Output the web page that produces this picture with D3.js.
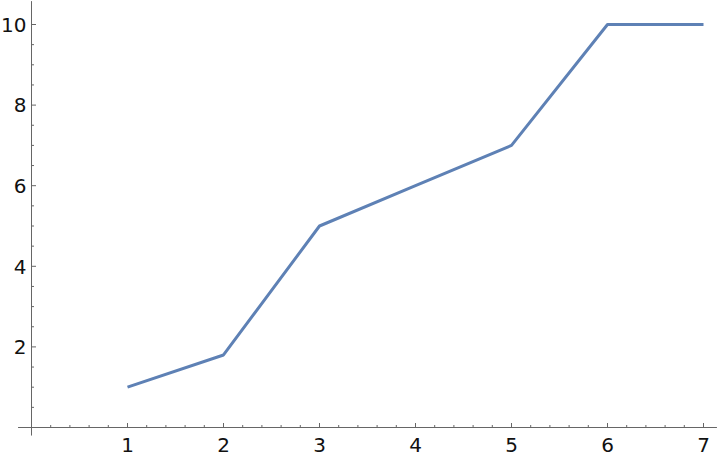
<!DOCTYPE html>
<html><head><meta charset="utf-8">
<script src="https://cdn.jsdelivr.net/npm/d3@7"></script>
<style>body{margin:0;background:#fff}svg{display:block}</style>
</head><body>
<script>
const xValues = [1, 2, 3, 4, 5, 6, 7];
const yValues = [1, 1.8, 5, 6, 7, 10, 10];
const xTickLabels = [1, 2, 3, 4, 5, 6, 7];
const yTickLabels = [2, 4, 6, 8, 10];

const W = 720, H = 458;
const svg = d3.select("body").append("svg").attr("width", W).attr("height", H);
const x = d3.scaleLinear().domain([0, 7]).range([31.5, 703.5]);
const y = d3.scaleLinear().domain([0, 10]).range([427.5, 24.5]);
const axisColor = "#666";
const font = "DejaVu Sans";

// axes lines
svg.append("line").attr("x1", x(-0.14)).attr("x2", x(7.14)).attr("y1", y(0)).attr("y2", y(0))
  .attr("stroke", axisColor).attr("stroke-width", 1);
svg.append("line").attr("x1", x(0)).attr("x2", x(0)).attr("y1", y(-0.2)).attr("y2", y(10.58))
  .attr("stroke", axisColor).attr("stroke-width", 1);

// x ticks
const xMinor = d3.range(1, 36).map(i => i / 5).filter(v => Math.abs(v - Math.round(v)) > 1e-6);
const gx = svg.append("g");
gx.selectAll("line.maj").data(xTickLabels).join("line")
  .attr("x1", d => x(d)).attr("x2", d => x(d)).attr("y1", y(0)).attr("y2", y(0) - 4.5)
  .attr("stroke", axisColor);
gx.selectAll("line.min").data(xMinor).join("line")
  .attr("x1", d => x(d)).attr("x2", d => x(d)).attr("y1", y(0)).attr("y2", y(0) - 2.5)
  .attr("stroke", axisColor);
gx.selectAll("text").data(xTickLabels).join("text")
  .attr("x", d => x(d)).attr("y", 452).attr("text-anchor", "middle")
  .attr("font-family", font).attr("font-size", 20).attr("fill", "#111").text(d => d);

// y ticks
const yMinor = d3.range(1, 21).map(i => i / 2).filter(v => !yTickLabels.includes(v));
const gy = svg.append("g");
gy.selectAll("line.maj").data(yTickLabels).join("line")
  .attr("x1", x(0)).attr("x2", x(0) + 4.5).attr("y1", d => y(d)).attr("y2", d => y(d))
  .attr("stroke", axisColor);
gy.selectAll("line.min").data(yMinor).join("line")
  .attr("x1", x(0)).attr("x2", x(0) + 2.5).attr("y1", d => y(d)).attr("y2", d => y(d))
  .attr("stroke", axisColor);
gy.selectAll("text").data(yTickLabels).join("text")
  .attr("x", 26.5).attr("y", d => y(d)).attr("dy", "0.36em").attr("text-anchor", "end")
  .attr("font-family", font).attr("font-size", 20).attr("fill", "#111").text(d => d);

// line
const pts = xValues.map((v, i) => [v, yValues[i]]);
svg.append("path").datum(pts)
  .attr("d", d3.line().x(d => x(d[0])).y(d => y(d[1])))
  .attr("fill", "none").attr("stroke", "#5e81b5").attr("stroke-width", 3)
  .attr("stroke-linejoin", "round");
</script>
</body></html>
